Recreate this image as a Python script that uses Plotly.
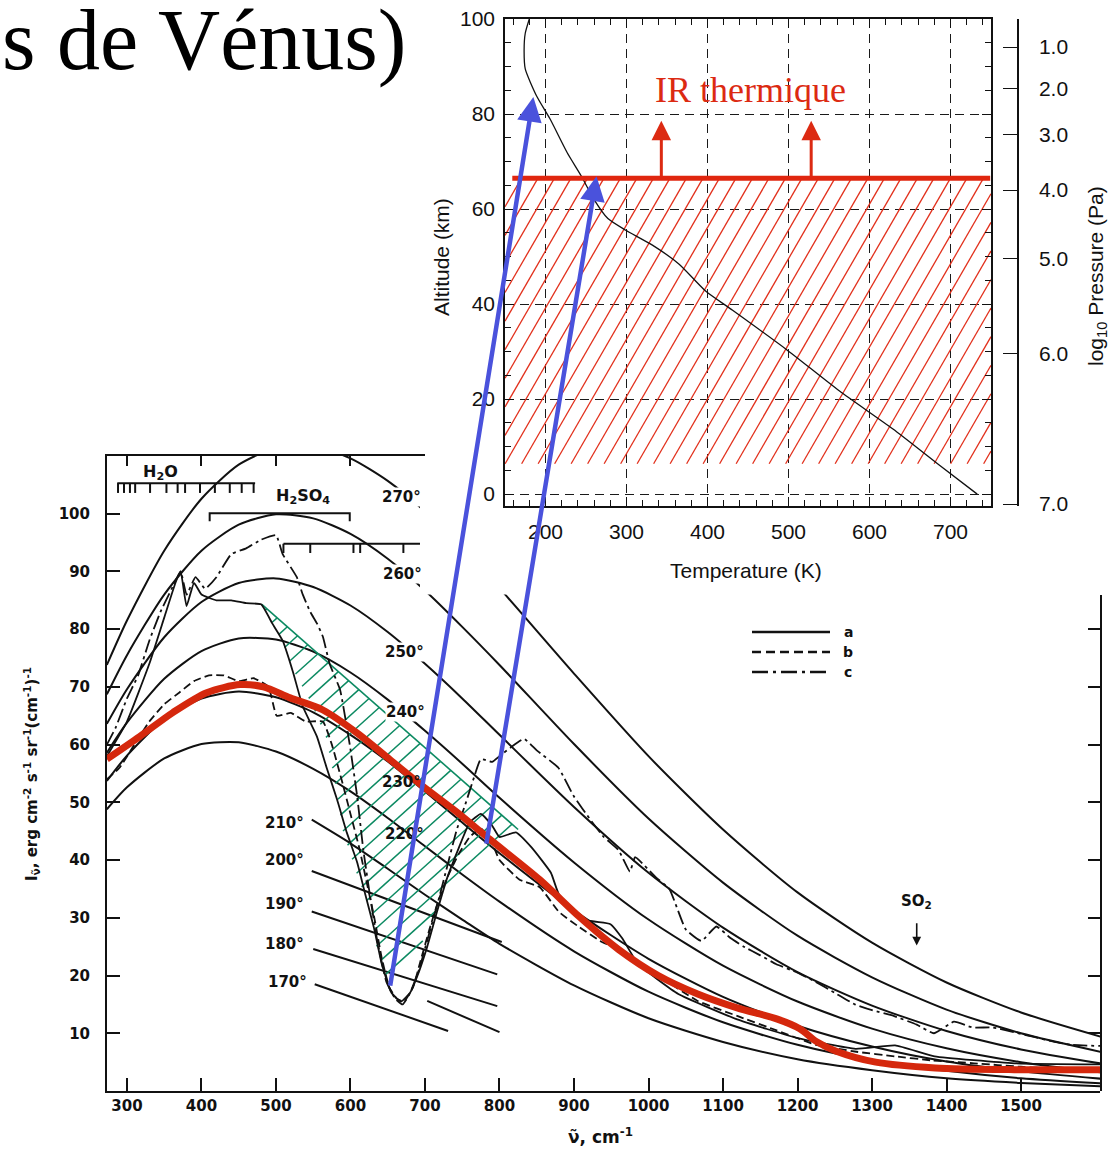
import numpy as np
import plotly.graph_objects as go

W, H = 1120, 1151

# ---------------- main chart data: wavenumber (cm-1) / radiance ----------------
nu_grid = [273, 300, 350, 400, 450, 500, 550, 600, 650, 700, 750, 800, 900, 1000,
           1100, 1200, 1300, 1400, 1500, 1610]
I_270 = [73.8, 81.5, 93.6, 102.6, 108.5, 111.4, 111.7, 109.6, 105.7, 100.4, 94.1, 87.1,
         72.3, 58.0, 45.3, 34.4, 25.7, 18.8, 13.6, 9.3]
I_260 = [68.7, 75.5, 86.0, 93.6, 98.1, 99.9, 99.2, 96.5, 92.2, 86.7, 80.4, 73.8,
         60.1, 47.2, 36.1, 26.9, 19.7, 14.1, 10.0, 6.7]
I_250 = [63.6, 69.6, 78.6, 84.7, 88.0, 88.8, 87.3, 84.1, 79.5, 74.0, 68.0, 61.7,
         49.2, 37.8, 28.3, 20.6, 14.8, 10.4, 7.2, 4.7]
I_240 = [58.6, 63.8, 71.4, 76.2, 78.4, 78.2, 76.1, 72.5, 67.8, 62.4, 56.7, 50.8,
         39.6, 29.7, 21.7, 15.5, 10.8, 7.4, 5.0, 3.2]
I_230 = [53.7, 58.1, 64.4, 68.0, 69.2, 68.2, 65.6, 61.7, 57.1, 51.9, 46.5, 41.2,
         31.3, 22.9, 16.3, 11.3, 7.7, 5.1, 3.4, 2.1]
I_220 = [48.8, 52.6, 57.6, 60.1, 60.4, 58.8, 55.8, 51.9, 47.3, 42.4, 37.5, 32.8,
         24.2, 17.2, 11.9, 8.0, 5.3, 3.5, 2.2, 1.3]
nu_210 = [548, 600, 650, 700, 750, 800, 900, 1000, 1100, 1200, 1300, 1400, 1500, 1610]
I_210 = [47.0, 42.9, 38.5, 34.0, 29.7, 25.5, 18.3, 12.6, 8.5, 5.5, 3.6, 2.2, 1.4, 0.8]

# short straight curve pieces (200, 190, 180, 170 K and a broken piece)
seg_nu0 = [548, 548, 550, 552, 703]
seg_nu1 = [803, 797, 797, 731, 800]
seg_I0 = [38.1, 31.1, 24.6, 18.5, 15.6]
seg_I1 = [25.8, 20.2, 14.7, 10.4, 10.2]

deg_text = ['270°', '260°', '250°', '240°', '230°', '220°', '210°', '200°', '190°', '180°', '170°']
deg_nu = [669, 670, 672, 674.5, 668, 673, 511, 512, 512, 512, 515]
deg_I = [102.9, 89.6, 76.1, 65.6, 53.6, 44.5, 46.5, 40.1, 32.4, 25.4, 18.9]

# measured spectra
a_nu = [273, 300, 330, 350, 365, 372, 380, 390, 400, 420, 440, 460, 480, 495, 509, 523, 536,
        555, 568, 582, 595, 609, 620, 632, 642, 655, 668, 680, 690, 703, 716, 730, 745, 760,
        775, 790, 800, 822, 843, 869, 880, 917, 949, 965, 986, 1040, 1119, 1199, 1278, 1331,
        1384, 1491, 1606]
a_I = [58, 64, 74, 82, 88, 90, 84, 88, 86, 85, 85, 84.5, 84.3, 81, 78, 72.5, 66.6,
       61.4, 56, 50.5, 44.8, 39.6, 34, 28, 22, 17, 15.5, 17, 20, 25, 31, 37, 42, 46.5,
       48, 46, 44, 44.8, 42.2, 37.8, 34, 29.6, 28.9, 26.4, 22, 16.8, 12.4, 9.2, 7.3, 7.9,
       6, 4.8, 4.6]
b_nu = [273, 290, 310, 330, 350, 370, 390, 410, 430, 450, 470, 490, 501, 520, 540, 563, 575,
        590, 600, 612, 622, 632, 642, 652, 662, 672, 684, 695, 706, 718, 730, 745, 760, 775,
        790, 800, 827, 854, 880, 907, 935, 960, 1013, 1066, 1119, 1172, 1225, 1279, 1331,
        1380, 1437, 1500, 1606]
b_I = [54, 56, 60, 64, 67, 69, 71, 72, 72, 71, 71.5, 70, 65, 65.5, 64, 64, 60,
       53, 48, 42, 36, 30, 23, 18, 16, 15.5, 18, 23, 28, 33, 37, 41, 44, 45.5,
       43, 40, 36.6, 35.3, 31, 28.4, 26, 24.5, 20, 15.6, 13, 10.5, 8, 6.8, 6,
       5.3, 4.8, 4.2, 3.4]
c_nu = [273, 285, 300, 315, 330, 345, 360, 372, 380, 392, 405, 420, 440, 460, 480, 500, 509,
        528, 536, 546, 555, 563, 572, 586, 599, 609, 617, 626, 636, 648, 660, 670, 680, 692,
        705, 718, 730, 742, 755, 765, 775, 790, 800, 815, 833, 850, 879, 900, 922, 940, 960,
        975, 982, 995, 1010, 1028, 1050, 1071, 1091, 1110, 1128, 1150, 1171, 1200, 1223,
        1250, 1277, 1300, 1329, 1360, 1383, 1410, 1435, 1462, 1490, 1516, 1545, 1568, 1606]
c_I = [60, 63, 68, 72, 78, 83, 87, 90, 86, 89, 87, 89, 93, 94, 95.5, 96.3, 93,
       89, 86, 83, 81, 78.7, 74, 69.5, 60, 51, 42, 34, 26, 19, 16, 15, 17, 21,
       27, 33, 39, 45, 50, 54, 57.5, 57, 58, 59.5, 61, 59, 56, 51, 47, 44, 41.7,
       38, 40.5, 39, 37, 35, 28, 26, 28.5, 26.5, 25, 23.5, 22, 20.5, 19,
       17, 15, 14, 13, 11.5, 10, 12, 11, 11, 10.2, 9.4, 8.5, 8, 7.8]

# red emission curve
red_nu = [273, 317, 362, 407, 452, 483, 519, 563, 609, 653, 697, 743, 787, 854, 907, 960,
          1013, 1066, 1119, 1172, 1203, 1225, 1252, 1305, 1385, 1491, 1606]
red_I = [57.5, 61.4, 65.6, 69, 70.4, 70, 68.1, 66, 62, 57.4, 52.8, 48.3, 43.6, 36.6, 30.2,
         24.5, 20, 16.8, 14.4, 12.5, 10.8, 8.6, 6.9, 5.0, 4.0, 3.7, 3.7]

# green band (absorption region)
green_nu = [481, 825, 790, 745, 717, 697, 675, 650, 636, 628, 610, 590, 580, 568, 546, 523, 505]
green_I = [84.3, 45.3, 41, 37.5, 31.5, 26, 21, 19.0, 24, 31, 37, 45, 53, 61, 67.5, 73, 79]

# absorption brackets
h2o_nu = [287, 472]
h2o_ticks = [288, 296, 304, 311, 331, 353, 368, 378, 398, 418, 438, 454, 470]
h2so4_nu = [411, 599]
h2so4b_nu = [510, 700]
h2so4b_ticks = [510, 546, 604, 613, 671]

# ---------------- inset: Venus temperature profile ----------------
prof_alt = [0, 6.4, 13.7, 21.7, 30.5, 38.7, 42.7, 48.4, 52.4, 55.6, 58, 62, 67, 71.8, 79,
            83.8, 89.5, 93.5, 97, 100]
prof_T = [733, 684, 629, 563, 497, 431, 398, 365, 332, 298.5, 277, 260, 244, 227, 205.5,
          189, 175, 173.6, 175, 180]
p_labels = ['1.0', '2.0', '3.0', '4.0', '5.0', '6.0', '7.0']
p_alt = [94.1, 85.3, 75.6, 64.0, 49.5, 29.5, -2.1]
layer_T = [150, 750]          # hatched emitting layer
layer_alt = [6.4, 66.5]
ir_line_T = [159, 749]
ir_arrow_T = [343, 528]
ir_arrow_top = 78.6

# links spectrum -> altitude (blue arrows)
link_nu = [653, 782]
link_I = [18.0, 42.6]
link_T = [185, 263]
link_alt = [83.6, 66.9]

# ---------------- geometry ----------------
MX0, MX1, MR0, MR1 = 107, 1100, 273.2, 1606.0
MY0, MY1, MYR = 1091, 456, 110.0
IX0, IX1, IR0, IR1 = 505, 991, 150.0, 750.0
IY0, IY1, IA0, IA1 = 506, 19, -2.5, 100.0


def main_px(n, v):
    return MX0 + (n - MR0) / (MR1 - MR0) * (MX1 - MX0), MY0 - v / MYR * (MY0 - MY1)


def main_data(px, py):
    return MR0 + (px - MX0) / (MX1 - MX0) * (MR1 - MR0), (MY0 - py) / (MY0 - MY1) * MYR


def inset_px(t, a):
    return IX0 + (t - IR0) / (IR1 - IR0) * (IX1 - IX0), IY0 - (a - IA0) / (IA1 - IA0) * (IY0 - IY1)


def hatch_polygon(xs, ys, angle_deg, spacing):
    """hatch lines (pixel space) clipped to a polygon, returned in main data coords"""
    pts = [main_px(a, b) for a, b in zip(xs, ys)]
    th = np.radians(angle_deg)
    nvec = np.array([np.sin(th), np.cos(th)])
    dvec = np.array([np.cos(th), -np.sin(th)])
    P = np.array(pts)
    u_all = P @ nvec
    outx, outy = [], []
    for u in np.arange(u_all.min() + spacing / 2, u_all.max(), spacing):
        hits = []
        for i in range(len(P)):
            p1, p2 = P[i], P[(i + 1) % len(P)]
            f1, f2 = p1 @ nvec - u, p2 @ nvec - u
            if f1 * f2 < 0:
                t = f1 / (f1 - f2)
                hits.append(p1 + t * (p2 - p1))
        hits.sort(key=lambda q: q @ dvec)
        for j in range(0, len(hits) - 1, 2):
            for q in (hits[j], hits[j + 1]):
                dx, dy = main_data(q[0], q[1])
                outx.append(dx)
                outy.append(dy)
            outx.append(None)
            outy.append(None)
    return outx, outy


fig = go.Figure()
BLK = '#111111'
common = dict(mode='lines', showlegend=False, hoverinfo='skip')

for arr in [I_270, I_260, I_250, I_240, I_230, I_220]:
    fig.add_trace(go.Scatter(x=nu_grid, y=arr, line=dict(color=BLK, width=2, shape='spline', smoothing=0.7), **common))
fig.add_trace(go.Scatter(x=nu_210, y=I_210, line=dict(color=BLK, width=2, shape='spline', smoothing=0.7), **common))
sx, sy = [], []
for a0, a1, b0, b1 in zip(seg_nu0, seg_nu1, seg_I0, seg_I1):
    sx += [a0, a1, None]
    sy += [b0, b1, None]
fig.add_trace(go.Scatter(x=sx, y=sy, line=dict(color=BLK, width=2), **common))

# brackets
bx, by = [h2o_nu[0], h2o_nu[1], None], [105.3, 105.3, None]
for t in h2o_ticks:
    bx += [t, t, None]
    by += [105.3, 103.6, None]
bx += [h2so4_nu[0], h2so4_nu[0], h2so4_nu[1], h2so4_nu[1], None]
by += [98.7, 100.1, 100.1, 98.7, None]
bx += [h2so4b_nu[0], h2so4b_nu[1], None]
by += [94.8, 94.8, None]
for t in h2so4b_ticks:
    bx += [t, t, None]
    by += [94.8, 93.2, None]
fig.add_trace(go.Scatter(x=bx, y=by, line=dict(color=BLK, width=2), **common))

# green hatched band
GRN = '#0c8a62'
gx, gy = hatch_polygon(green_nu, green_I, 42, 13.5)
fig.add_trace(go.Scatter(x=gx, y=gy, line=dict(color=GRN, width=1.5), **common))
fig.add_trace(go.Scatter(x=green_nu[:2], y=green_I[:2], line=dict(color=GRN, width=1.6), **common))

# spectra
fig.add_trace(go.Scatter(x=a_nu, y=a_I, line=dict(color=BLK, width=1.8, shape='spline', smoothing=0.4), **common))
fig.add_trace(go.Scatter(x=b_nu, y=b_I, line=dict(color=BLK, width=1.8, dash='8px,4px', shape='spline', smoothing=0.4), **common))
fig.add_trace(go.Scatter(x=c_nu, y=c_I, line=dict(color=BLK, width=1.8, dash='14px,4px,3px,4px', shape='spline', smoothing=0.4), **common))

# red curve
fig.add_trace(go.Scatter(x=red_nu, y=red_I, line=dict(color='#d5280d', width=7, shape='spline', smoothing=0.8), **common))

# white cover under the inset
fig.add_trace(go.Scatter(x=[693.3, 1700, 1700, 693.3, 693.3], y=[86, 86, 130, 130, 86], fill='toself',
                         fillcolor='white', line=dict(width=0), **common))

# helper traces for extra axes
fig.add_trace(go.Scatter(x=[None], y=[None], xaxis='x3', yaxis='y', **common))
fig.add_trace(go.Scatter(x=[None], y=[None], xaxis='x', yaxis='y4', **common))

# ---------------- inset traces ----------------
kx = (IX1 - IX0) / (IR1 - IR0)
ky = (IY0 - IY1) / (IA1 - IA0)
slope = (ky / np.tan(np.radians(60))) / kx   # K per km along hatch line
step = 16.5 / kx
T0, T1 = layer_T
A0, A1 = layer_alt
hx, hy = [], []
for c in np.arange(T0 - (A1 - A0) * slope, T1, step):
    alo = max(A0, A0 + (T0 - c) / slope)
    ahi = min(A1, A0 + (T1 - c) / slope)
    if ahi > alo:
        hx += [c + (alo - A0) * slope, c + (ahi - A0) * slope, None]
        hy += [alo, ahi, None]
fig.add_trace(go.Scatter(x=hx, y=hy, xaxis='x2', yaxis='y2', line=dict(color='#e2301c', width=1.3), **common))
fig.add_trace(go.Scatter(x=prof_T, y=prof_alt, xaxis='x2', yaxis='y2',
                         line=dict(color=BLK, width=1.3, shape='spline', smoothing=0.6), **common))
fig.add_trace(go.Scatter(x=ir_line_T, y=[A1, A1], xaxis='x2', yaxis='y2',
                         line=dict(color='#e0260f', width=5), **common))
fig.add_trace(go.Scatter(x=[None], y=[None], xaxis='x2', yaxis='y3', **common))

# ---------------- annotations ----------------
ann = []
MF = 'DejaVu Sans'
CM = dict(xanchor='center', yanchor='middle')
for t, n, v in zip(deg_text, deg_nu, deg_I):
    bg = 'white' if v > 60 else 'rgba(0,0,0,0)'
    ann.append(dict(x=n, y=v, xref='x', yref='y', text='<b>%s</b>' % t, showarrow=False,
                    font=dict(family=MF, size=15, color=BLK), bgcolor=bg, borderpad=0, **CM))
ann.append(dict(x=345.6, y=107.1, xref='x', yref='y', text='<b>H<sub>2</sub>O</b>', showarrow=False,
                font=dict(family=MF, size=16, color=BLK), **CM))
ann.append(dict(x=536, y=103.0, xref='x', yref='y', text='<b>H<sub>2</sub>SO<sub>4</sub></b>', showarrow=False,
                font=dict(family=MF, size=16, color=BLK), **CM))
ann.append(dict(x=1360, y=32.8, xref='x', yref='y', text='<b>SO<sub>2</sub></b>', showarrow=False,
                font=dict(family=MF, size=15, color=BLK), **CM))
ann.append(dict(x=1360, y=25.2, xref='x', yref='y', axref='x', ayref='y', ax=1360, ay=29.3, text='',
                showarrow=True, arrowhead=2, arrowwidth=1.6, arrowsize=1.1, arrowcolor=BLK))
# legend (a, b, c)
for i, lab in enumerate(['a', 'b', 'c']):
    yy = 632 + i * 20
    ann.append(dict(x=848 / W, y=1 - yy / H, xref='paper', yref='paper', text='<b>%s</b>' % lab,
                    showarrow=False, font=dict(family=MF, size=14, color=BLK), **CM))
shapes = []
for i, dsh in enumerate(['solid', '9px,5px', '16px,5px,3px,5px']):
    yy = 1 - (632 + i * 20) / H
    shapes.append(dict(type='line', xref='paper', yref='paper', x0=752 / W, x1=830 / W, y0=yy, y1=yy,
                       line=dict(color=BLK, width=2.5, dash=dsh)))

# axis titles main
ann.append(dict(x=31 / W, y=1 - 774 / H, xref='paper', yref='paper', textangle=-90, showarrow=False,
                text='<b>I<sub>ν̃</sub>, erg cm<sup>-2</sup> s<sup>-1</sup> sr<sup>-1</sup>(cm<sup>-1</sup>)<sup>-1</sup></b>',
                font=dict(family=MF, size=15, color=BLK), **CM))
ann.append(dict(x=600 / W, y=1 - 1149 / H, xref='paper', yref='paper', xanchor='center', yanchor='bottom',
                showarrow=False, text='<b>ν̃, cm<sup>-1</sup></b>', font=dict(family=MF, size=17, color=BLK)))
# big slide text
ann.append(dict(x=408 / W, y=1 - 40 / H, xref='paper', yref='paper', xanchor='right', yanchor='middle',
                showarrow=False, text='s de Vénus)', font=dict(family='Liberation Serif', size=86, color='black')))

# inset titles
IF = 'Liberation Sans'
ann.append(dict(x=442 / W, y=1 - 257 / H, xref='paper', yref='paper', textangle=-90, showarrow=False,
                text='Altitude (km)', font=dict(family=IF, size=21, color=BLK), **CM))
ann.append(dict(x=746 / W, y=1 - 570 / H, xref='paper', yref='paper', showarrow=False,
                text='Temperature (K)', font=dict(family=IF, size=21, color=BLK), **CM))
ann.append(dict(x=1097 / W, y=1 - 276 / H, xref='paper', yref='paper', textangle=-90, showarrow=False,
                text='log<sub>10</sub> Pressure (Pa)', font=dict(family=IF, size=21, color=BLK), **CM))
ann.append(dict(x=453, y=85.1, xref='x2', yref='y2', showarrow=False, text='IR thermique',
                font=dict(family='Liberation Serif', size=36, color='#dc2a12'), **CM))
for t in ir_arrow_T:
    ann.append(dict(x=t, y=ir_arrow_top, xref='x2', yref='y2', axref='x2', ayref='y2', ax=t, ay=A1,
                    text='', showarrow=True, arrowhead=2, arrowsize=1.3, arrowwidth=3, arrowcolor='#dc2a12'))

# blue arrows linking spectrum to altitude
for n, v, t, a in zip(link_nu, link_I, link_T, link_alt):
    tx, ty = main_px(n, v)
    hx_, hy_ = inset_px(t, a)
    ann.append(dict(x=hx_ / W, y=1 - hy_ / H, xref='paper', yref='paper', ax=tx - hx_, ay=ty - hy_,
                    text='', showarrow=True, arrowhead=2, arrowsize=1.1, arrowwidth=4.5, arrowcolor='#4a52dc'))

tickf = dict(family=MF, size=15, color=BLK, weight='bold')
itf = dict(family=IF, size=21, color=BLK)
grid = dict(showgrid=True, gridcolor='#1a1a1a', gridwidth=1.4, griddash='9px,6px')
nomargin = dict(automargin=False)

fig.update_layout(
    width=W, height=H, autosize=False, margin=dict(l=0, r=0, t=0, b=0, pad=0, autoexpand=False),
    paper_bgcolor='white', plot_bgcolor='rgba(0,0,0,0)', showlegend=False,
    annotations=ann, shapes=shapes,
    xaxis=dict(domain=[MX0 / W, MX1 / W], range=[MR0, MR1], anchor='y', showline=True, linecolor=BLK,
               linewidth=2, ticks='inside', ticklen=13, tickwidth=2, tickcolor=BLK,
               tickvals=list(range(300, 1600, 100)), tickfont=tickf, showgrid=False, zeroline=False,
               ticklabelstandoff=0, **nomargin),
    yaxis=dict(domain=[1 - MY0 / H, 1 - MY1 / H], range=[0, MYR], anchor='x', showline=True, linecolor=BLK,
               linewidth=2, ticks='inside', ticklen=13, tickwidth=2, tickcolor=BLK,
               tickvals=list(range(10, 101, 10)), tickfont=tickf, showgrid=False, zeroline=False,
               ticklabelstandoff=12, **nomargin),
    xaxis3=dict(domain=[MX0 / W, 425 / W], range=[MR0, 700.0], anchor='y', side='top', showline=True,
                linecolor=BLK, linewidth=2, ticks='inside', ticklen=10, tickwidth=2, tickcolor=BLK,
                tickvals=[300, 400, 500, 600, 700], showticklabels=False, showgrid=False, zeroline=False,
                **nomargin),
    yaxis4=dict(domain=[1 - MY0 / H, 1 - 595 / H], range=[0, (MY0 - 595) / (MY0 - MY1) * MYR], anchor='x',
                side='right', showline=True, linecolor=BLK, linewidth=2, ticks='inside', ticklen=12,
                tickwidth=2, tickcolor=BLK, tickvals=list(range(10, 81, 10)), showticklabels=False,
                showgrid=False, zeroline=False, **nomargin),
    xaxis2=dict(domain=[IX0 / W, IX1 / W], range=[IR0, IR1], anchor='y2', showline=True, mirror='ticks',
                linecolor=BLK, linewidth=1.5, ticks='inside', ticklen=9, tickcolor=BLK, tick0=0, dtick=100,
                minor=dict(ticks='inside', ticklen=6, dtick=20, tick0=0, tickcolor=BLK, showgrid=False),
                tickfont=itf, zeroline=False, ticklabelstandoff=6, **grid, **nomargin),
    yaxis2=dict(domain=[1 - IY0 / H, 1 - IY1 / H], range=[IA0, IA1], anchor='x2', showline=True,
                mirror='ticks', linecolor=BLK, linewidth=1.5, ticks='inside', ticklen=9, tickcolor=BLK,
                tick0=0, dtick=20,
                minor=dict(ticks='inside', ticklen=6, dtick=5, tick0=0, tickcolor=BLK, showgrid=False),
                tickfont=itf, zeroline=False, ticklabelstandoff=4, **grid, **nomargin),
    yaxis3=dict(overlaying='y2', side='right', anchor='free', position=1018 / W, range=[IA0, IA1],
                showline=True, linecolor=BLK, linewidth=1.5, ticks='inside', ticklen=14, tickcolor=BLK,
                tickvals=p_alt, ticktext=p_labels, tickfont=itf, showgrid=False, zeroline=False,
                ticklabelstandoff=16, **nomargin),
)

fig.write_html('out.html')
